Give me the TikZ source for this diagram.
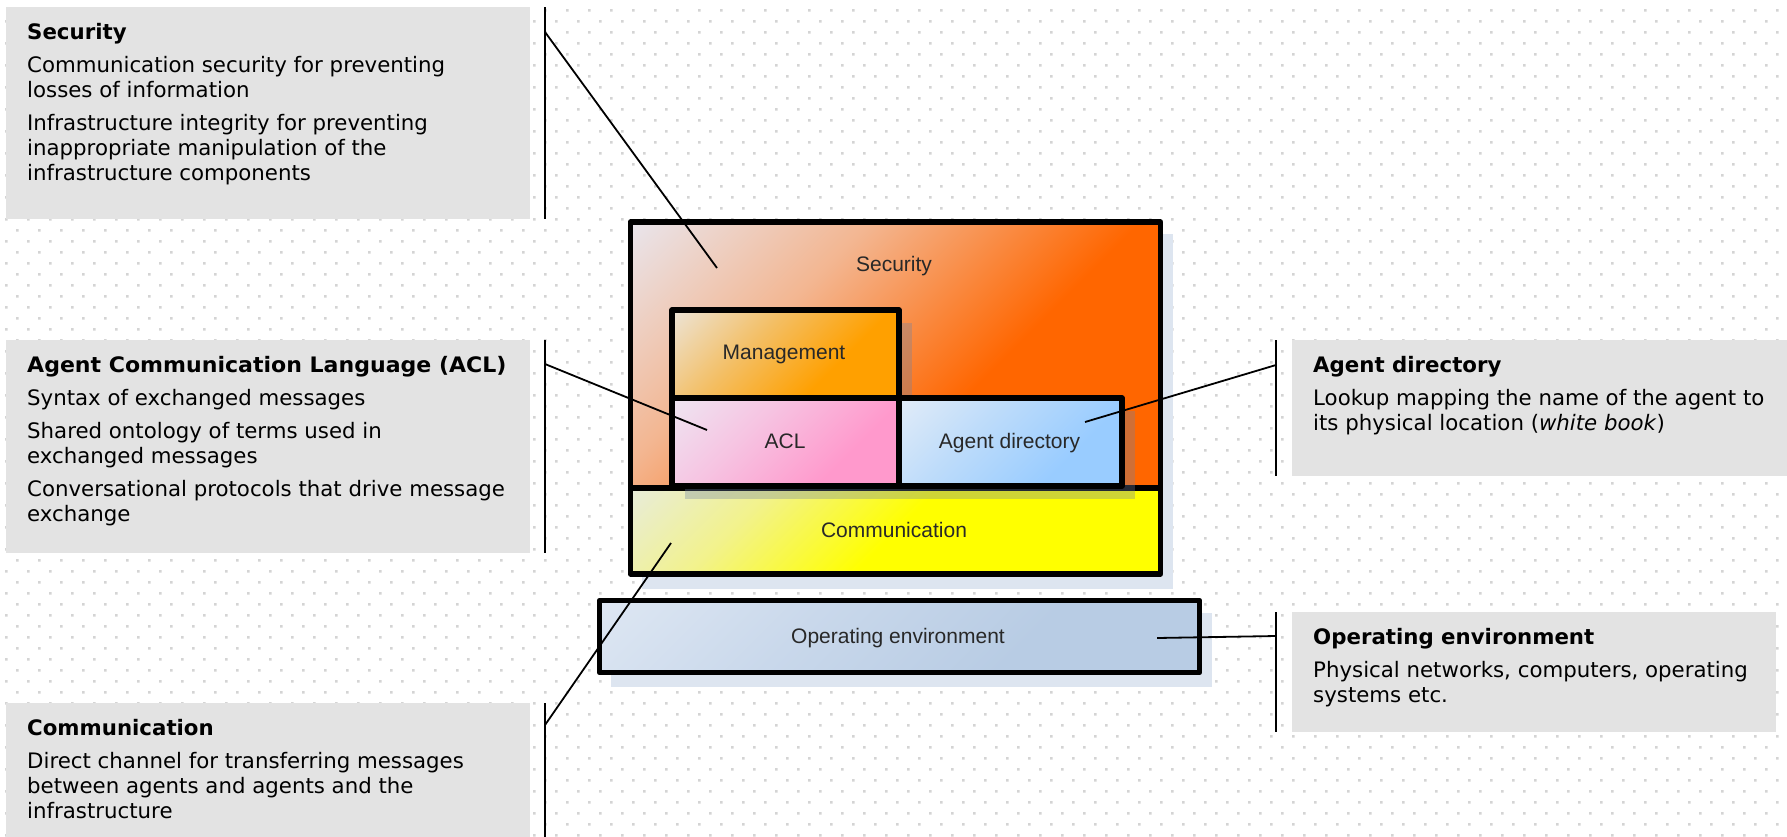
\documentclass[tikz,border=0pt]{standalone}
\usepackage{fontspec}
\setmainfont{DejaVu Sans}
\newfontfamily\labelfont{Liberation Sans}
\usetikzlibrary{calc}

\definecolor{calloutgray}{RGB}{227,227,227}
\definecolor{dotgray}{RGB}{212,212,212}
\definecolor{shadowblue}{RGB}{221,229,240}
\definecolor{innershadow}{RGB}{110,130,165}
\definecolor{labelgray}{RGB}{40,40,40}

% gradient colours: pale corner, middle, full colour
\definecolor{secA}{RGB}{233,229,236}\definecolor{secM}{RGB}{243,182,145}\definecolor{secB}{RGB}{255,102,0}
\definecolor{mgtA}{RGB}{236,228,216}\definecolor{mgtM}{RGB}{243,192,105}\definecolor{mgtB}{RGB}{255,160,0}
\definecolor{aclA}{RGB}{238,230,242}\definecolor{aclM}{RGB}{246,196,226}\definecolor{aclB}{RGB}{255,153,204}
\definecolor{dirA}{RGB}{226,236,248}\definecolor{dirM}{RGB}{190,220,250}\definecolor{dirB}{RGB}{153,204,255}
\definecolor{comA}{RGB}{232,236,218}\definecolor{comM}{RGB}{242,242,140}\definecolor{comB}{RGB}{255,255,0}
\definecolor{oenA}{RGB}{222,231,243}\definecolor{oenM}{RGB}{201,216,235}\definecolor{oenB}{RGB}{184,204,228}

% diagonal gradient: #1 name, #2/#3/#4 colours, #5/#6 stop positions
\newcommand\mklayershade[6]{%
  \pgfdeclarehorizontalshading{#1}{100bp}{color(0bp)=(#2); color(14.6bp)=(#2);
    color(#5bp)=(#3); color(#6bp)=(#4); color(100bp)=(#4)}}
\mklayershade{secshade}{secA}{secM}{secB}{36}{60}
\mklayershade{mgtshade}{mgtA}{mgtM}{mgtB}{39}{64}
\mklayershade{aclshade}{aclA}{aclM}{aclB}{39}{67}
\mklayershade{dirshade}{dirA}{dirM}{dirB}{39}{67}
\mklayershade{comshade}{comA}{comM}{comB}{31}{50}
\mklayershade{oenshade}{oenA}{oenM}{oenB}{39}{64}

\begin{document}
\begin{tikzpicture}[x=1pt,y=-1pt,
  callout/.style={fill=calloutgray, draw=none, inner sep=0pt, outer sep=0pt, anchor=north west},
  callouttext/.style={inner sep=0pt, anchor=north west, align=left, text=black,
    font=\fontsize{21.3pt}{25pt}\selectfont},
  calloutbar/.style={line width=1.8pt, black},
  layer/.style={draw=black, line width=5.5pt, line join=round, inner sep=0pt, outer sep=0pt,
    shade, shading angle=-45},
  layershadow/.style={fill=innershadow, fill opacity=0.33},
  layerlabel/.style={anchor=base, inner sep=0pt, text=labelgray,
    font=\labelfont\fontsize{21pt}{25pt}\selectfont},
  pointer/.style={line width=1.8pt, black}]

\useasboundingbox (0,0) rectangle (1787,836);
\fill[white] (0,0) rectangle (1787,836);

% staggered dot grid of the canvas
\fill[dotgray] \foreach \i in {0,...,81}{\foreach \j in {0,...,38}{
  ({16.1+22*\i},{9.1+22*\j}) rectangle ++(2.4,2.4)
  ({5.1+22*\i},{20.1+22*\j}) rectangle ++(2.4,2.4)}};

% callout panels
\node[callout, minimum width=524pt, minimum height=212pt] (secbox) at (6,7) {};
\node[callout, minimum width=524pt, minimum height=213pt] (aclbox) at (6,340) {};
\node[callout, minimum width=524pt, minimum height=150pt] (combox) at (6,703) {};
\node[callout, minimum width=500pt, minimum height=136pt] (dirbox) at (1292,340) {};
\node[callout, minimum width=484pt, minimum height=120pt] (oenbox) at (1292,612) {};

% bars beside the panels
\draw[calloutbar] ($(secbox.north east)+(15,0)$) -- ($(secbox.south east)+(15,0)$);
\draw[calloutbar] ($(aclbox.north east)+(15,0)$) -- ($(aclbox.south east)+(15,0)$);
\draw[calloutbar] ($(combox.north east)+(15,0)$) -- ($(combox.south east)+(15,0)$);
\draw[calloutbar] ($(dirbox.north west)+(-16,0)$) -- ($(dirbox.south west)+(-16,0)$);
\draw[calloutbar] ($(oenbox.north west)+(-16,0)$) -- ($(oenbox.south west)+(-16,0)$);

% panel texts (first baseline 32pt below the panel top)
\node[callouttext] (sectext) at ($(secbox.north west)+(21,14.5)$) {%
  \strut\textbf{Security}\\[8pt]
  Communication security for preventing\\
  losses of information\\[8pt]
  Infrastructure integrity for preventing\\
  inappropriate manipulation of the\\
  infrastructure components};
\node[callouttext] (acltext) at ($(aclbox.north west)+(21,14.5)$) {%
  \strut\textbf{\addfontfeature{FakeStretch=1.035}Agent Communication Language (ACL)}\\[8pt]
  Syntax of exchanged messages\\[8pt]
  Shared ontology of terms used in\\
  exchanged messages\\[8pt]
  Conversational protocols that drive message\\
  exchange};
\node[callouttext] (comtext) at ($(combox.north west)+(21,14.5)$) {%
  \strut\textbf{Communication}\\[8pt]
  Direct channel for transferring messages\\
  between agents and agents and the\\
  infrastructure};
\node[callouttext] (dirtext) at ($(dirbox.north west)+(21,14.5)$) {%
  \strut\textbf{Agent directory}\\[8pt]
  Lookup mapping the name of the agent to\\
  its physical location (\textit{white book})};
\node[callouttext] (oentext) at ($(oenbox.north west)+(21,14.5)$) {%
  \strut\textbf{Operating environment}\\[8pt]
  Physical networks, computers, operating\\
  systems etc.};

% outer drop shadows
\fill[shadowblue] (642,234) rectangle (1173,589);
\fill[shadowblue] (611,613) rectangle (1212,687);

% layered architecture
\node[layer, shading=secshade, minimum width=530pt, minimum height=266pt] (security) at (895.5,355) {};
\node[layer, shading=oenshade, minimum width=600pt, minimum height=72pt] (oenv) at (899.5,636.5) {};
\node[layer, shading=comshade, minimum width=530pt, minimum height=86pt] (comm) at (895.5,531) {};

% shadows of the inner layers
\fill[layershadow] ($(security.north west)+(54.5,101)$) rectangle ++(227,88);
\fill[layershadow] ($(security.north west)+(54.5,189)$) rectangle ++(450,88);

\node[layer, shading=mgtshade, minimum width=227pt, minimum height=88pt] (mgmt) at (785.5,354) {};
\node[layer, shading=aclshade, minimum width=227pt, minimum height=88pt] (acl) at (785.5,442) {};
\node[layer, shading=dirshade, minimum width=223pt, minimum height=88pt] (dir) at (1010.5,442) {};

% layer labels
\node[layerlabel] (seclabel) at (894,271) {Security};
\node[layerlabel] (mgtlabel) at (784,359) {Management};
\node[layerlabel] (acllabel) at (785,448) {ACL};
\node[layerlabel] (dirlabel) at (1009.5,448) {Agent directory};
\node[layerlabel] (comlabel) at (894,537) {Communication};
\node[layerlabel] (oenlabel) at (898,643) {Operating environment};

% pointer ends
\coordinate (secpin) at ($(security.north west)+(86.5,46)$);
\coordinate (aclpin) at ($(acl.north west)+(35,32)$);
\coordinate (dirpin) at ($(dir.north west)+(186,24)$);
\coordinate (compin) at ($(comm.north west)+(40.5,55)$);
\coordinate (oenpin) at ($(oenv.north west)+(557.5,37.5)$);
\coordinate (secroot) at ($(secbox.north east)+(15,25)$);
\coordinate (aclroot) at ($(aclbox.north east)+(15,24)$);
\coordinate (comroot) at ($(combox.north east)+(15,22)$);
\coordinate (dirroot) at ($(dirbox.north west)+(-16,25)$);
\coordinate (oenroot) at ($(oenbox.north west)+(-16,24)$);

\draw[pointer] (secroot) -- (secpin);
\draw[pointer] (aclroot) -- (aclpin);
\draw[pointer] (comroot) -- (compin);
\draw[pointer] (dirroot) -- (dirpin);
\draw[pointer] (oenroot) -- (oenpin);

\end{tikzpicture}
\end{document}
